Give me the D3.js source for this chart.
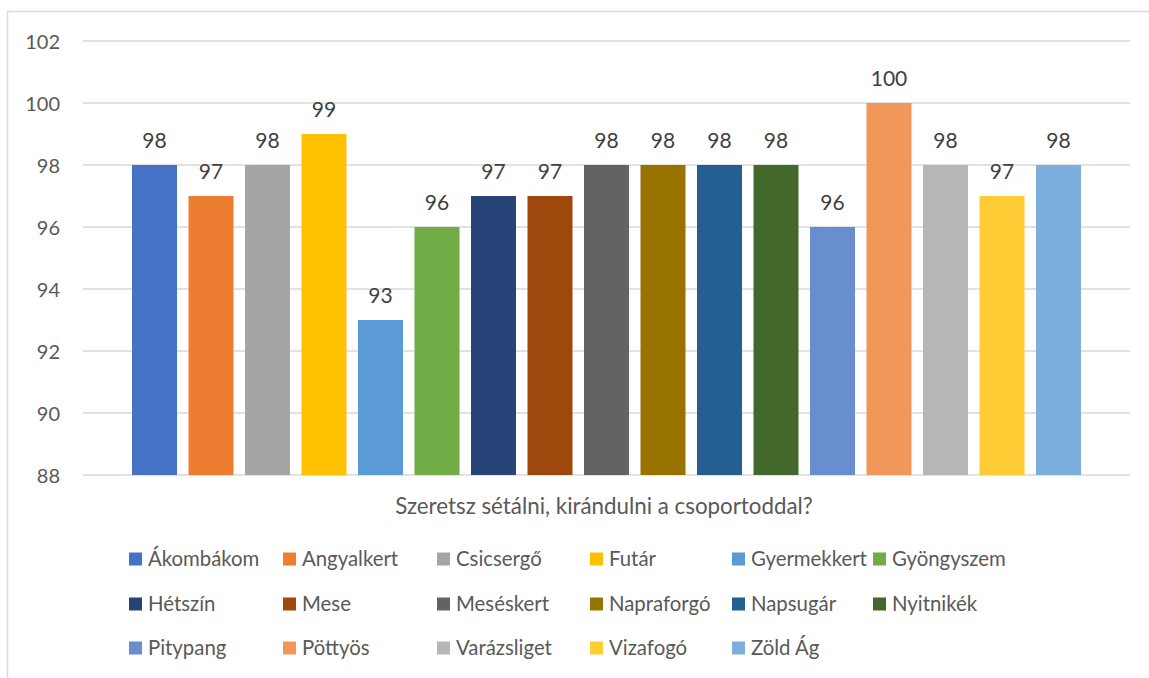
<!DOCTYPE html>
<html><head><meta charset="utf-8">
<script src="https://cdn.jsdelivr.net/npm/d3@7/dist/d3.min.js"></script>
<style>body{margin:0;background:#fff;}svg{display:block;}</style>
</head><body>
<svg id="c" width="1149" height="678"></svg>
<script>
const categories = ["Ákombákom","Angyalkert","Csicsergő","Futár","Gyermekkert","Gyöngyszem","Hétszín","Mese","Meséskert","Napraforgó","Napsugár","Nyitnikék","Pitypang","Pöttyös","Varázsliget","Vizafogó","Zöld Ág"];
const values = [98,97,98,99,93,96,97,97,98,98,98,98,96,100,98,97,98];
const colors = ["#4472C4","#ED7D31","#A5A5A5","#FFC000","#5B9BD5","#70AD47","#264478","#9E480E","#636363","#997300","#255E91","#43682B","#698ED0","#F1975A","#B7B7B7","#FFCD33","#7CAFDD"];
const yTicks = [88,90,92,94,96,98,100,102];
const axisTitle = "Szeretsz sétálni, kirándulni a csoportoddal?";

const svg = d3.select("#c");
const font = "Lato, 'Open Sans', sans-serif";
const txt = "#595959";

// chart border
svg.append("rect").attr("x",7.5).attr("y",11.5).attr("width",1160).attr("height",700)
  .attr("fill","none").attr("stroke","#D9D9D9").attr("stroke-width",1.5);

const y = d3.scaleLinear().domain([88,102]).range([475,41]);
const x = d3.scaleBand().domain(categories).range([83,1130]).paddingInner(0.2035).paddingOuter(0.867);

// gridlines
svg.append("g").selectAll("line").data(yTicks).join("line")
  .attr("x1",83).attr("x2",1130).attr("y1",d=>y(d)).attr("y2",d=>y(d))
  .attr("stroke","#D9D9D9").attr("stroke-width",1.5);

// y axis labels
const yAxis = d3.axisLeft(y).tickValues(yTicks).tickSize(0).tickPadding(0);
const ga = svg.append("g").attr("transform","translate(60,0)").call(yAxis);
ga.select(".domain").remove();
ga.selectAll("text").attr("font-family",font).attr("font-size",20).attr("fill",txt).attr("dy","0.36em");

// bars
svg.append("g").selectAll("rect").data(categories).join("rect")
  .attr("x",d=>x(d)).attr("width",x.bandwidth())
  .attr("y",(d,i)=>y(values[i])).attr("height",(d,i)=>y(88)-y(values[i]))
  .attr("fill",(d,i)=>colors[i]);

// value labels
svg.append("g").selectAll("text").data(categories).join("text")
  .attr("x",d=>x(d)+x.bandwidth()/2).attr("y",(d,i)=>y(values[i])-17)
  .attr("text-anchor","middle").attr("font-family",font).attr("font-size",21).attr("fill","#404040")
  .text((d,i)=>values[i]);

// axis title
const t = svg.append("text").attr("x",604).attr("y",514).attr("text-anchor","middle")
  .attr("font-family",font).attr("font-size",18).attr("fill",txt).text(axisTitle);
const tw = t.node().getComputedTextLength();
t.attr("font-size",18*418/tw);

// legend
const colX = [129,283,437,590,732,873];
const rowY = [559,604,648];
const lg = svg.append("g");
let fs = 18;
categories.forEach((c,i)=>{
  const cx = colX[i%6], cy = rowY[Math.floor(i/6)];
  lg.append("rect").attr("x",cx).attr("y",cy-6.5).attr("width",13).attr("height",13).attr("fill",colors[i]);
  lg.append("text").attr("class","lt").attr("x",cx+19).attr("y",cy).attr("dy","0.36em")
    .attr("font-family",font).attr("font-size",fs).attr("fill",txt).text(c);
});
const w0 = lg.selectAll(".lt").filter(d=>false).size(); // placeholder
const gy = lg.selectAll(".lt").nodes()[4].getComputedTextLength();
lg.selectAll(".lt").attr("font-size",fs*116/gy);
</script>
</body></html>
